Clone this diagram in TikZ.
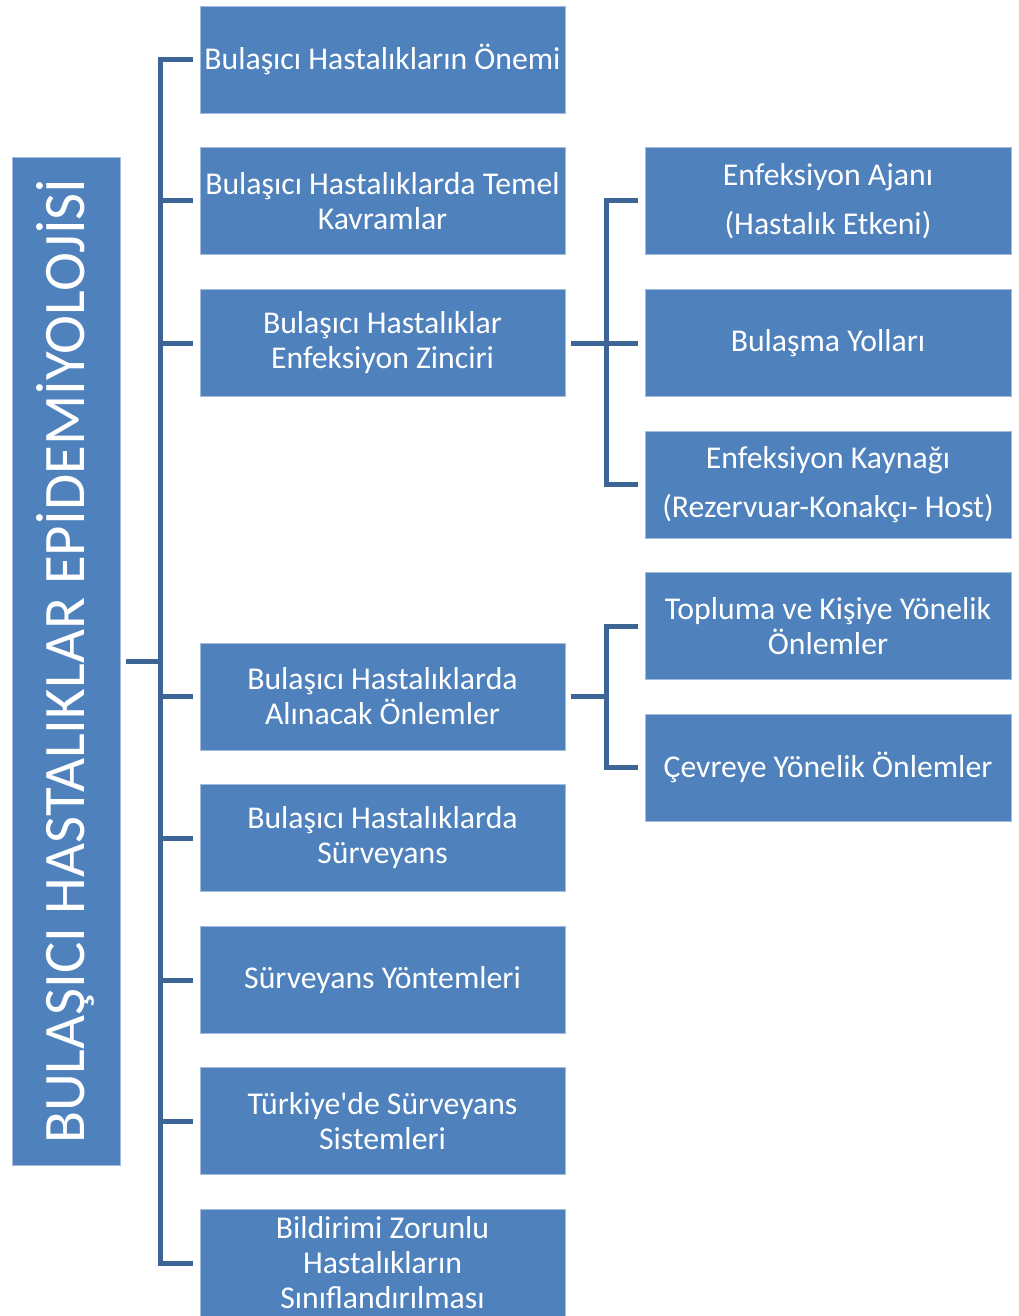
\documentclass[tikz,border=0pt]{standalone}
\usepackage{fontspec}
\setmainfont{Carlito}
\usetikzlibrary{positioning,calc}
\definecolor{blue500}{HTML}{4F81BD}
\definecolor{blue300}{HTML}{A3BCDD}
\definecolor{blue700}{HTML}{3C6494}
\tikzset{
  topic/.style ={draw=blue300, line width=0.6pt, fill=blue500, text=white,
                 minimum width=273.75pt, minimum height=80.25pt, inner sep=0pt,
                 align=center, font=\fontsize{23.8}{26.25}\selectfont},
  sub/.style   ={topic, minimum width=274.5pt},
  root/.style  ={draw=blue300, line width=0.6pt, fill=blue500, text=white,
                 rotate=90, minimum width=756pt, minimum height=81pt,
                 inner sep=0pt, text height=28.3pt, text depth=0pt,
                 font=\fontsize{44.1}{50}\selectfont},
  ln/.style    ={draw=blue700, line width=3.75pt}
}

\begin{document}
\begin{tikzpicture}[x=0.75pt, y=-0.75pt]
\useasboundingbox (0,0) rectangle (1018,1316);
% title
\node[root] (root) at (66,661) {BULAŞICI HASTALIKLAR EPİDEMİYOLOJİSİ};
% first level
\node[topic] (onem)     at (382.5,59.5) {Bulaşıcı Hastalıkların Önemi};
\node[topic] (kavram)   at (382.5,201)  {Bulaşıcı Hastalıklarda Temel\\Kavramlar};
\node[topic] (zincir)   at (382.5,343)  {Bulaşıcı Hastalıklar\\Enfeksiyon Zinciri};
\node[topic] (onlem)    at (382.5,696.5){Bulaşıcı Hastalıklarda\\Alınacak Önlemler};
\node[topic] (surv)     at (382.5,838)  {Bulaşıcı Hastalıklarda\\Sürveyans};
\node[topic] (yontem)   at (382.5,980)  {Sürveyans Yöntemleri};
\node[topic] (sistem)   at (382.5,1121) {Türkiye\textquotesingle de Sürveyans\\Sistemleri};
\node[topic] (bildirim) at (382.5,1263) {Bildirimi Zorunlu\\Hastalıkların\\Sınıflandırılması};
% second level
\node[sub] (ajan)   at (828,201)   {Enfeksiyon Ajanı\\[10.5pt](Hastalık Etkeni)};
\node[sub] (yol)    at (828,343)   {Bulaşma Yolları};
\node[sub] (kaynak) at (828,484.5) {Enfeksiyon Kaynağı\\[10.5pt](Rezervuar-Konakçı- Host)};
\node[sub] (toplum) at (828,626)   {Topluma ve Kişiye Yönelik\\Önlemler};
\node[sub] (cevre)  at (828,767.5) {Çevreye Yönelik Önlemler};

% brackets
\coordinate (spine)  at (160,661);
\coordinate (spineA) at (606,343);
\coordinate (spineB) at (606,696.5);

\draw[ln] ([xshift=4.5pt]root.south) -- (spine);
\draw[ln] ([xshift=-5.25pt]onem.west) -| (spine |- bildirim.west)
          -- ([xshift=-5.25pt]bildirim.west);
\foreach \n in {kavram,zincir,onlem,surv,yontem,sistem}
  \draw[ln] (spine |- \n.west) -- ([xshift=-5.25pt]\n.west);

\draw[ln] ([xshift=4.5pt]zincir.east) -- (spineA);
\draw[ln] ([xshift=-5.25pt]ajan.west) -| (spineA |- kaynak.west)
          -- ([xshift=-5.25pt]kaynak.west);
\draw[ln] (spineA) -- ([xshift=-5.25pt]yol.west);

\draw[ln] ([xshift=4.5pt]onlem.east) -- (spineB);
\draw[ln] ([xshift=-5.25pt]toplum.west) -| (spineB |- cevre.west)
          -- ([xshift=-5.25pt]cevre.west);
\end{tikzpicture}
\end{document}
